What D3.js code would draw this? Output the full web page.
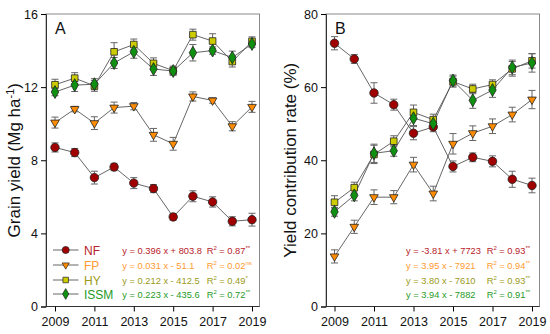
<!DOCTYPE html>
<html>
<head>
<meta charset="utf-8">
<script src="https://cdn.jsdelivr.net/npm/d3@7"></script>
<style>
  body { margin: 0; background: #fff; }
  svg { font-family: "Liberation Sans", Arial, sans-serif; }
</style>
</head>
<body>
<div id="chart"></div>
<script>
const years = [2009, 2010, 2011, 2012, 2013, 2014, 2015, 2016, 2017, 2018, 2019];
const xTicks = [2009, 2011, 2013, 2015, 2017, 2019];
const treatments = ["NF", "FP", "HY", "ISSM"];

// Panel A: grain yield (Mg ha-1)
const nfYield   = [8.70, 8.42, 7.05, 7.63, 6.75, 6.45, 4.90, 6.03, 5.72, 4.66, 4.75];
const fpYield   = [10.06, 10.80, 10.03, 10.88, 10.96, 9.39, 8.90, 11.49, 11.27, 9.86, 10.92];
const hyYield   = [12.13, 12.49, 12.07, 13.93, 14.33, 13.30, 12.90, 14.87, 14.52, 13.40, 14.50];
const issmYield = [11.73, 12.11, 12.16, 13.32, 13.93, 12.99, 12.88, 13.88, 14.00, 13.62, 14.36];
const nfYieldErr   = [0.25, 0.22, 0.35, 0.20, 0.30, 0.22, 0.18, 0.30, 0.28, 0.25, 0.35];
const fpYieldErr   = [0.30, 0.15, 0.35, 0.30, 0.20, 0.35, 0.35, 0.25, 0.15, 0.25, 0.30];
const hyYieldErr   = [0.30, 0.30, 0.30, 0.50, 0.30, 0.30, 0.25, 0.30, 0.40, 0.30, 0.25];
const issmYieldErr = [0.20, 0.35, 0.30, 0.30, 0.35, 0.35, 0.20, 0.45, 0.20, 0.35, 0.20];

// Panel B: yield contribution rate (%)
const nfRate   = [72.0, 67.7, 58.4, 55.2, 47.4, 49.1, 38.3, 40.8, 39.7, 34.8, 33.1];
const fpRate   = [13.7, 21.8, 29.9, 29.9, 38.8, 30.9, 44.5, 47.4, 49.3, 52.5, 56.6];
const hyRate   = [28.5, 32.5, 41.6, 45.2, 53.1, 51.1, 61.5, 59.5, 60.7, 65.0, 67.2];
const issmRate = [25.9, 30.4, 41.9, 42.6, 51.5, 50.0, 61.8, 56.4, 59.2, 65.4, 66.6];
const nfRateErr   = [1.8, 1.2, 2.8, 1.5, 1.8, 1.3, 1.5, 1.2, 1.5, 2.2, 2.0];
const fpRateErr   = [1.8, 1.8, 2.0, 1.8, 2.0, 2.0, 2.8, 2.0, 2.0, 2.0, 2.5];
const hyRateErr   = [1.8, 1.5, 2.5, 1.5, 2.0, 1.5, 1.5, 1.3, 1.3, 2.0, 2.0];
const issmRateErr = [1.2, 1.5, 2.5, 1.5, 2.0, 1.5, 1.5, 2.2, 2.0, 2.0, 2.5];

// regression text
const eqA = ["y = 0.396 x + 803.8", "y = 0.031 x - 51.1", "y = 0.212 x - 412.5", "y = 0.223 x - 435.6"];
const r2A = ["0.87", "0.02", "0.49", "0.72"];
const sigA = ["**", "ns", "*", "**"];
const eqB = ["y = -3.81 x + 7723", "y = 3.95 x - 7921", "y = 3.80 x - 7610", "y = 3.94 x - 7882"];
const r2B = ["0.93", "0.94", "0.93", "0.91"];
const sigB = ["**", "**", "**", "**"];

const fills = ["#a00000", "#ff8c00", "#cccc00", "#109010"];
const textColors = ["#b8222a", "#ff9a30", "#9a9a20", "#1f9a1f"];
const symbols = [d3.symbolCircle, d3.symbolTriangle, d3.symbolSquare, d3.symbolDiamond];
const symSizes = [56, 32, 44, 48];

const svg = d3.select("#chart").append("svg")
  .attr("width", 550).attr("height", 334);

function drawPanel(opt) {
  const x = d3.scaleLinear().domain([2009, 2019]).range(opt.xr);
  const y = d3.scaleLinear().domain(opt.yDomain).range([306.5, 14]);
  const g = svg.append("g");

  // frame top/right
  g.append("rect")
    .attr("x", opt.frame[0]).attr("y", 14)
    .attr("width", opt.frame[1] - opt.frame[0]).attr("height", 292.5)
    .attr("fill", "none").attr("stroke", "#8a8a8a").attr("stroke-width", 1);

  const xAxis = g.append("g")
    .attr("transform", "translate(0,306.5)")
    .call(d3.axisBottom(x).tickValues(xTicks).tickFormat(d3.format("d")).tickSizeOuter(0).tickSize(5));
  xAxis.select(".domain").attr("d", `M${opt.frame[0]},0H${opt.frame[1]}`).attr("stroke", "#333");
  xAxis.selectAll("text").attr("font-size", 12.5).attr("fill", "#111").attr("dy", "0.95em");

  const yAxis = g.append("g")
    .attr("transform", `translate(${opt.frame[0]},0)`)
    .call(d3.axisLeft(y).tickValues(opt.yTicks).tickSizeOuter(0).tickSize(5));
  yAxis.select(".domain").attr("stroke", "#333");
  yAxis.selectAll("text").attr("font-size", 12.5).attr("fill", "#111");

  g.append("text")
    .attr("transform", `translate(${opt.labelX},${(14 + 306.5) / 2}) rotate(-90)`)
    .attr("text-anchor", "middle")
    .attr("font-size", 17)
    .attr("fill", "#111")
    .html(opt.yLabel);

  g.append("text")
    .attr("x", opt.frame[0] + 9).attr("y", 34)
    .attr("font-size", 16).attr("fill", "#111")
    .text(opt.letter);

  const line = d3.line().x((d, i) => x(years[i])).y(d => y(d));

  opt.series.forEach((s, k) => {
    g.append("path")
      .attr("d", line(s.values))
      .attr("fill", "none").attr("stroke", "#555").attr("stroke-width", 0.9);
  });

  opt.series.forEach((s, k) => {
    const eb = g.append("g").attr("stroke", "#666").attr("stroke-width", 1);
    s.values.forEach((v, i) => {
      const cx = x(years[i]);
      const lo = y(v - s.err[i]), hi = y(v + s.err[i]);
      eb.append("line").attr("x1", cx).attr("x2", cx).attr("y1", lo).attr("y2", hi);
      eb.append("line").attr("x1", cx - 3.5).attr("x2", cx + 3.5).attr("y1", lo).attr("y2", lo);
      eb.append("line").attr("x1", cx - 3.5).attr("x2", cx + 3.5).attr("y1", hi).attr("y2", hi);
    });
  });

  opt.series.forEach((s, k) => {
    g.selectAll(null).data(s.values).enter().append("path")
      .attr("d", d3.symbol().type(symbols[k]).size(symSizes[k]))
      .attr("transform", (d, i) => `translate(${x(years[i])},${y(d)})` + (k === 1 ? " rotate(180)" : ""))
      .attr("fill", fills[k]).attr("stroke", "#222").attr("stroke-width", 0.8);
  });

  // legend and regression equations
  const rowY = [250, 265, 280, 294];
  treatments.forEach((t, k) => {
    const ry = rowY[k];
    if (opt.legend) {
      g.append("line").attr("x1", 53).attr("x2", 78.5).attr("y1", ry).attr("y2", ry)
        .attr("stroke", "#555").attr("stroke-width", 0.9);
      g.append("path")
        .attr("d", d3.symbol().type(symbols[k]).size(symSizes[k] * 0.7))
        .attr("transform", `translate(65.7,${ry})` + (k === 1 ? " rotate(180)" : ""))
        .attr("fill", fills[k]).attr("stroke", "#222").attr("stroke-width", 0.7);
      g.append("text").attr("x", 84).attr("y", ry + 4.5)
        .attr("font-size", 12).attr("fill", textColors[k]).text(t);
    }
    g.append("text").attr("x", opt.eqX).attr("y", ry + 3.5)
      .attr("font-size", 9.3).attr("fill", textColors[k]).text(opt.eq[k]);
    const r = g.append("text").attr("x", opt.r2X).attr("y", ry + 3.5)
      .attr("font-size", 9.3).attr("fill", textColors[k]);
    r.append("tspan").text("R");
    r.append("tspan").attr("font-size", 6).attr("dy", -3.5).text("2");
    r.append("tspan").attr("dy", 3.5).text(" = " + opt.r2[k]);
    r.append("tspan").attr("font-size", 6).attr("dy", -3.5).text(opt.sig[k]);
  });
}

drawPanel({
  letter: "A",
  xr: [55, 252],
  frame: [46, 259.5],
  yDomain: [0, 16],
  yTicks: [0, 4, 8, 12, 16],
  labelX: 20,
  yLabel: 'Grain yield (Mg ha<tspan font-size="11" dy="-6">-1</tspan><tspan dy="6">)</tspan>',
  series: [
    { values: nfYield, err: nfYieldErr },
    { values: fpYield, err: fpYieldErr },
    { values: hyYield, err: hyYieldErr },
    { values: issmYield, err: issmYieldErr }
  ],
  legend: true,
  eq: eqA, r2: r2A, sig: sigA,
  eqX: 122.3, r2X: 206.7
});

drawPanel({
  letter: "B",
  xr: [334.5, 532],
  frame: [326, 539.5],
  yDomain: [0, 80],
  yTicks: [0, 20, 40, 60, 80],
  labelX: 296,
  yLabel: "Yield contribution rate (%)",
  series: [
    { values: nfRate, err: nfRateErr },
    { values: fpRate, err: fpRateErr },
    { values: hyRate, err: hyRateErr },
    { values: issmRate, err: issmRateErr }
  ],
  legend: false,
  eq: eqB, r2: r2B, sig: sigB,
  eqX: 406, r2X: 486.7
});
</script>
</body>
</html>
